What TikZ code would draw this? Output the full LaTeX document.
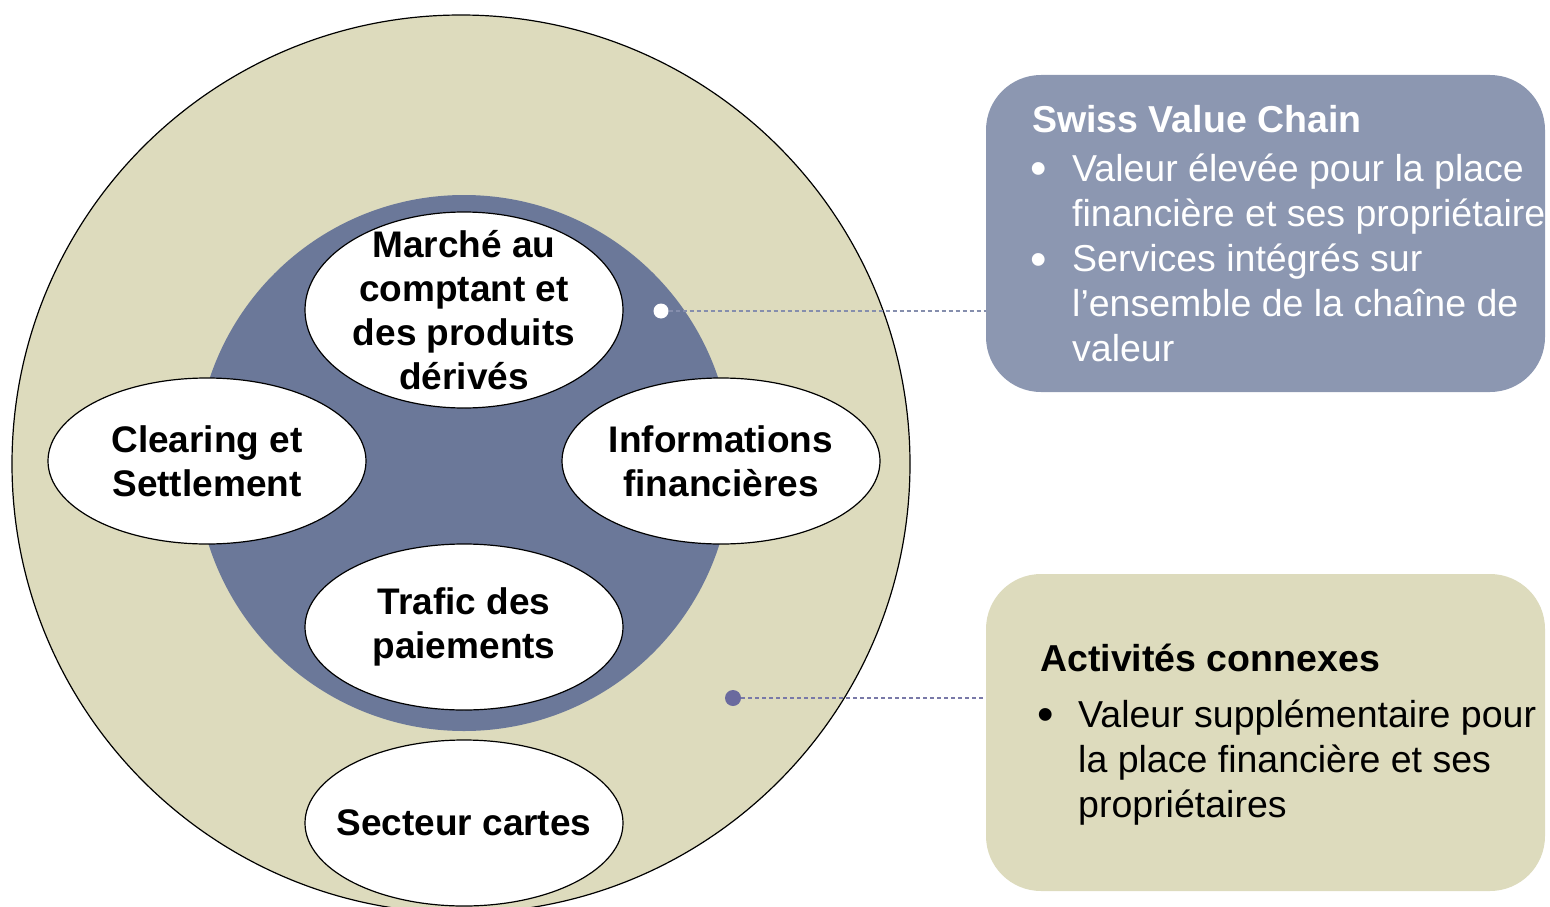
\documentclass[tikz,border=0pt]{standalone}
\usepackage{fontspec}
\setmainfont{Liberation Sans}
\usetikzlibrary{shapes, positioning, calc}
\definecolor{sand}{HTML}{DDDBBD}
\definecolor{slate}{HTML}{6B7899}
\definecolor{paleslate}{HTML}{8C97B1}
\definecolor{dotblue}{HTML}{6A6A9E}
\tikzstyle{segment} = [ellipse, draw=black, line width=1.2pt, fill=white, minimum width=318pt, minimum height=166pt, inner xsep=-20pt, inner ysep=-30pt, align=center, font=\fontsize{37}{44}\selectfont\bfseries]
\tikzstyle{infobox} = [rectangle, rounded corners=55pt, minimum width=559pt, minimum height=317pt]
\tikzstyle{boxtitle} = [anchor=base west, inner sep=0pt, font=\fontsize{37.5}{45}\selectfont\bfseries]
\tikzstyle{boxlist} = [anchor=base west, inner sep=0pt, align=left, font=\fontsize{37.5}{45}\selectfont]
\tikzstyle{boxbullet} = [anchor=base west, inner sep=0pt, font=\fontsize{47}{45}\selectfont]
\tikzstyle{leader} = [dash pattern=on 4pt off 3pt, line width=1.1pt]

\begin{document}
\begin{tikzpicture}[x=1pt, y=-1pt, node distance=257pt]
\useasboundingbox (0,0) rectangle (1550,907);
% circles
\draw[fill=sand, line width=1.2pt] (461,464) circle (449pt);
\fill[slate] (464,463) circle (268pt);
\coordinate (hub) at (464,463);
% segments
\node (market) [segment, above of=hub, yshift=-104pt, minimum height=196pt] {Marché au\\comptant et\\des produits\\dérivés};
\node (clearing) [segment, left of=hub, yshift=2pt] {Clearing et\\Settlement};
\node (info) [segment, right of=hub, yshift=2pt] {Informations\\financières};
\node (payment) [segment, below of=hub, yshift=93pt] {Trafic des\\paiements};
\node (cards) [segment, below of=payment, yshift=61pt] {Secteur cartes};
% boxes
\node (svcbox) [infobox, fill=paleslate] at (1265.5,233.5) {};
\node (adjbox) [infobox, fill=sand] at (1265.5,732.5) {};
\node (svctitle) [boxtitle, text=white] at (1032,132) {Swiss Value Chain};
\node (svcb1) [boxbullet, text=white] at (1030,184) {\textbullet};
\node (svcb2) [boxbullet, text=white] at (1030,275) {\textbullet};
\node (svclist) [boxlist, text=white] at (1072,361) {Valeur élevée pour la place\\financière et ses propriétaires\\Services intégrés sur\\l’ensemble de la chaîne de\\valeur};
\node (adjtitle) [boxtitle] at (1040,671) {Activités connexes};
\node (adjb1) [boxbullet] at (1037,730) {\textbullet};
\node (adjlist) [boxlist] at (1078,817) {Valeur supplémentaire pour\\la place financière et ses\\propriétaires};
% leaders
\node (svcdot) [circle, fill=white, inner sep=0pt, minimum size=15pt] at (661,311) {};
\node (adjdot) [circle, fill=dotblue, inner sep=0pt, minimum size=16pt] at (733,698) {};
\draw[leader, draw=paleslate!80!dotblue] (svcdot) -- (svcdot -| svcbox.west);
\draw[leader, draw=dotblue!90] (adjdot) -- (adjdot -| adjbox.west);
\end{tikzpicture}
\end{document}
